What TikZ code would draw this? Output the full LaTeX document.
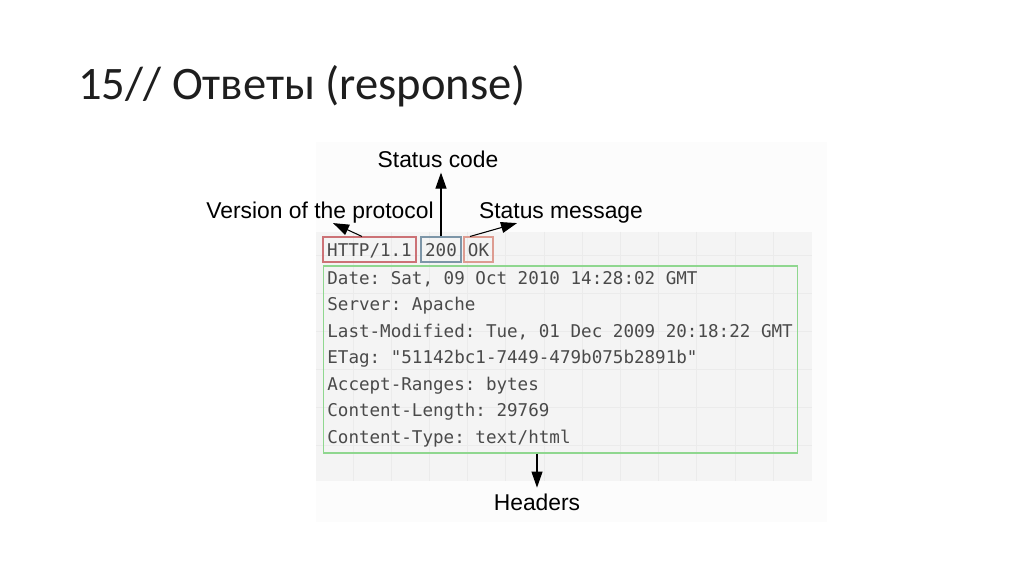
\documentclass[tikz,border=0pt]{standalone}
\usepackage{fontspec}
\setmainfont{Liberation Sans}
\setmonofont{DejaVu Sans Mono}
\newfontfamily\titlefont{Carlito}
\usetikzlibrary{arrows.meta}
\definecolor{codegray}{HTML}{4A4A4A}
\definecolor{titlegray}{HTML}{1E1E1E}
\definecolor{verred}{HTML}{CC7276}
\definecolor{codeblue}{HTML}{7D96A8}
\definecolor{msgred}{HTML}{DD9C91}
\definecolor{hdrgreen}{HTML}{8FD78F}
\definecolor{panel}{HTML}{F4F4F4}
\definecolor{backdrop}{HTML}{FCFCFC}
\definecolor{gridline}{HTML}{EBEBEB}
\tikzstyle{arrow} = [-{Triangle[length=0.32cm,width=0.22cm]},line width=0.6pt]
\tikzstyle{tag} = [font=\fontsize{13}{15}\selectfont,anchor=base,inner sep=0pt]
\tikzstyle{field} = [draw,line width=0.6pt,font=\ttfamily\fontsize{10}{12}\selectfont,text=codegray,minimum height=0.5cm,inner sep=0pt,text height=8.5pt,text depth=0pt]
\tikzstyle{hdrline} = [font=\ttfamily\fontsize{10}{12}\selectfont,text=codegray,anchor=base west,inner sep=0pt]

\begin{document}
\begin{tikzpicture}[x=0.02cm,y=-0.02cm]
          \useasboundingbox (0,0) rectangle (1024,574);
          \fill[white] (0,0) rectangle (1024,574);
          % title
          \node[anchor=base west,inner sep=0pt,text=titlegray,font=\titlefont\fontsize{26.5}{30}\selectfont] at (78,100) (title) {15// Ответы (response)};

          % screenshot panel with grid
          \fill[backdrop] (316,142) rectangle (827,522);
          \fill[panel] (316,232) rectangle (812,481);
          \foreach \gx in {353,391.2,...,790} \draw[gridline,line width=0.4pt] (\gx,232) -- (\gx,481);
          \foreach \gy in {255,293,...,481} \draw[gridline,line width=0.4pt] (316,\gy) -- (812,\gy);

          % status line
          \node[field, draw=verred, minimum width=1.86cm] at (369.5,249.5) (ver) {HTTP/1.1};
          \node[field, draw=codeblue, minimum width=0.8cm] at (441,249.5) (code) {200};
          \node[field, draw=msgred, minimum width=0.58cm] at (478.5,249.5) (msg) {OK};

          % headers
          \node[draw=hdrgreen, line width=0.6pt, minimum width=9.5cm, minimum height=3.74cm] at (560.5,359.5) (hdrs) {};
          \node[hdrline] at (327,284) (date) {Date: Sat, 09 Oct 2010 14:28:02 GMT};
          \node[hdrline] at (327,310.5) (server) {Server: Apache};
          \node[hdrline] at (327,337) (lastmod) {Last-Modified: Tue, 01 Dec 2009 20:18:22 GMT};
          \node[hdrline] at (327,363.5) (etag) {ETag: "51142bc1-7449-479b075b2891b"};
          \node[hdrline] at (327,390) (ranges) {Accept-Ranges: bytes};
          \node[hdrline] at (327,416.5) (length) {Content-Length: 29769};
          \node[hdrline] at (327,443) (ctype) {Content-Type: text/html};

          % captions
          \node[tag] at (438,168) (codetag) {Status code};
          \node[tag] at (320,218) (vertag) {Version of the protocol};
          \node[tag] at (561,218) (msgtag) {Status message};
          \node[tag] at (537,510) (hdrtag) {Headers};

          \draw[arrow] (code.north) -- ([yshift=-0.08cm]code |- codetag.south);
          \draw[arrow] ([xshift=-0.15cm]ver.north) -- ([xshift=0.26cm]vertag.south);
          \draw[arrow] ([xshift=-0.17cm]msg.north) -- ([xshift=-0.88cm]msgtag.south);
          \draw[arrow] (hdrtag |- hdrs.south) -- ([yshift=0.11cm]hdrtag.north);
        \end{tikzpicture}
\end{document}
